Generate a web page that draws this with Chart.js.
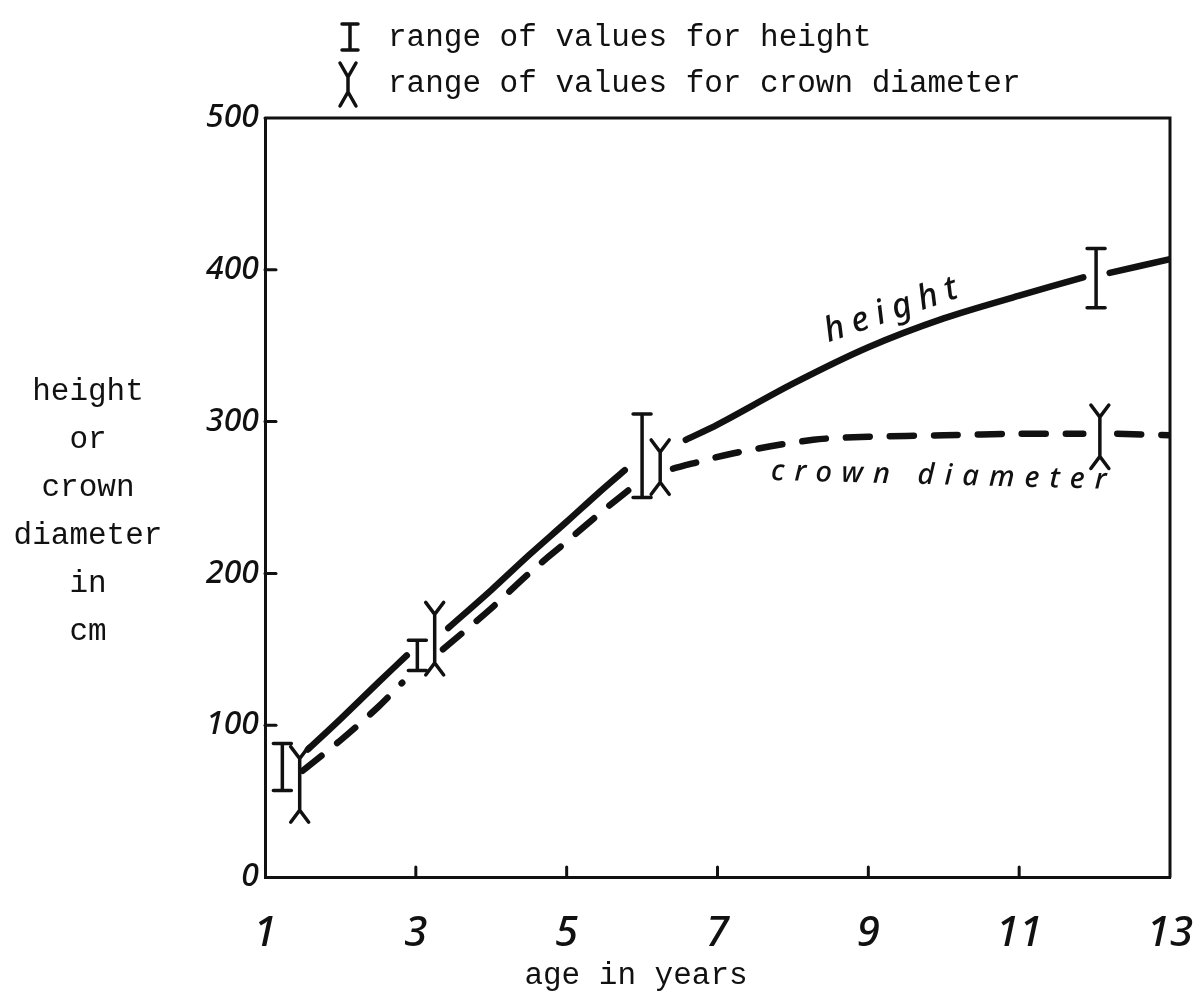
<!DOCTYPE html>
<html>
<head>
<meta charset="utf-8">
<script src="https://cdn.jsdelivr.net/npm/chart.js@4"></script>
<style>
  body { margin: 0; background: #fff; }
  #wrap { width: 1203px; height: 994px; position: relative; }
</style>
</head>
<body>
<div id="wrap"><canvas id="growthChart"></canvas></div>
<script>
// ages (years) and values (cm); null = a break in the pen line
var heightAge = [1.57, 2, 2.5, 2.88, 3.1, 3.43, 4, 4.5, 5, 5.4, 5.77, 6.2, 6.58, 7, 8, 9, 10, 11, 11.85, 12, 12.2, 13];
var heightCm  = [84, 104, 128, 146, null, 164, 189, 212, 234, 252, 268, null, 288, 298, 325, 349, 368, 383, 395, null, 398, 407];

var crownAge = [1.5, 2, 2.5, 2.82, 3.1, 3.36, 4, 4.5, 5, 5.5, 5.9, 6.3, 6.41, 7.2, 8.27, 9, 10, 11, 11.85, 12, 12.3, 13];
var crownCm  = [70, 90, 112, 128, null, 150, 177, 200, 221, 242, 258, null, 269, 279, 288, 290, 291, 292, 292, null, 292, 291];

// range bars
var heightRangeAge  = [1.23, 3.02, 6.0, 12.02];
var heightRangeLow  = [57, 136, 250, 375];
var heightRangeHigh = [88, 156, 305, 414];

var crownRangeAge  = [1.46, 3.25, 6.24, 12.07];
var crownRangeLow  = [44, 141, 260, 277];
var crownRangeHigh = [78, 173, 280, 303];

// tick labels
var xTickValues = [1, 3, 5, 7, 9, 11, 13];
var yTickValues = [0, 100, 200, 300, 400, 500];

var legendText = ['range of values for height', 'range of values for crown diameter'];
var yTitleLines = ['height', 'or', 'crown', 'diameter', 'in', 'cm'];
var xTitle = 'age in years';

function toPoints(xs, ys) {
  var pts = [];
  for (var i = 0; i < xs.length; i++) {
    pts.push({ x: xs[i], y: ys[i] });
  }
  return pts;
}

var ink = '#111';
var mono = '"Liberation Mono", "DejaVu Sans Mono", monospace';
var hand = '"Noto Sans", "DejaVu Sans", sans-serif';

function drawI(ctx, x, yTop, yBot, w) {
  ctx.beginPath();
  ctx.moveTo(x, yTop); ctx.lineTo(x, yBot);
  ctx.moveTo(x - w, yTop); ctx.lineTo(x + w, yTop);
  ctx.moveTo(x - w, yBot); ctx.lineTo(x + w, yBot);
  ctx.stroke();
}

function drawY(ctx, x, yTop, yBot, w, h) {
  ctx.beginPath();
  ctx.moveTo(x, yTop); ctx.lineTo(x, yBot);
  ctx.moveTo(x - w, yTop - h); ctx.lineTo(x, yTop); ctx.lineTo(x + w, yTop - h);
  ctx.moveTo(x - w, yBot + h); ctx.lineTo(x, yBot); ctx.lineTo(x + w, yBot + h);
  ctx.stroke();
}

// everything the hand drew around the curves
var sketchPlugin = {
  id: 'sketch',
  afterDraw: function (chart) {
    var ctx = chart.ctx;
    var xs = chart.scales.x, ys = chart.scales.y;
    var a = chart.chartArea;
    ctx.save();
    ctx.strokeStyle = ink;
    ctx.fillStyle = ink;
    ctx.lineCap = 'round';

    // top and right edge of the box
    ctx.lineWidth = 3;
    ctx.beginPath();
    ctx.moveTo(a.left, a.top); ctx.lineTo(a.right, a.top); ctx.lineTo(a.right, a.bottom);
    ctx.stroke();

    // inward tick marks
    for (var i = 1; i < yTickValues.length - 1; i++) {
      var py = ys.getPixelForValue(yTickValues[i]);
      ctx.beginPath(); ctx.moveTo(a.left, py); ctx.lineTo(a.left + 11, py); ctx.stroke();
    }
    for (var j = 1; j < xTickValues.length - 1; j++) {
      var px = xs.getPixelForValue(xTickValues[j]);
      ctx.beginPath(); ctx.moveTo(px, a.bottom); ctx.lineTo(px, a.bottom - 10); ctx.stroke();
    }

    // range bars
    ctx.lineWidth = 3.5;
    for (var k = 0; k < heightRangeAge.length; k++) {
      drawI(ctx, xs.getPixelForValue(heightRangeAge[k]),
        ys.getPixelForValue(heightRangeHigh[k]), ys.getPixelForValue(heightRangeLow[k]), 9);
    }
    for (var m = 0; m < crownRangeAge.length; m++) {
      drawY(ctx, xs.getPixelForValue(crownRangeAge[m]),
        ys.getPixelForValue(crownRangeHigh[m]), ys.getPixelForValue(crownRangeLow[m]), 9, 12);
    }

    // legend at the top
    drawI(ctx, 350, 24, 50, 8);
    drawY(ctx, 348, 77, 92, 8, 14);
    ctx.font = '31px ' + mono;
    ctx.textAlign = 'left';
    ctx.textBaseline = 'middle';
    ctx.fillText(legendText[0], 388, 38);
    ctx.fillText(legendText[1], 388, 84);

    // y title, one word per line
    ctx.textAlign = 'center';
    for (var n = 0; n < yTitleLines.length; n++) {
      ctx.fillText(yTitleLines[n], 88, 392 + n * 48);
    }
    // x title
    ctx.fillText(xTitle, 636, 976);

    // hand written curve names
    ctx.font = 'italic 500 34px ' + hand;
    ctx.letterSpacing = '8px';
    ctx.save();
    ctx.translate(xs.getPixelForValue(9.35), ys.getPixelForValue(374));
    ctx.rotate(-19 * Math.PI / 180);
    ctx.fillText('height', 0, 0);
    ctx.restore();

    ctx.font = 'italic 500 29px ' + hand;
    ctx.letterSpacing = '10px';
    ctx.save();
    ctx.translate(xs.getPixelForValue(10.0), ys.getPixelForValue(264));
    ctx.rotate(1.5 * Math.PI / 180);
    ctx.fillText('crown diameter', 0, 0);
    ctx.restore();

    ctx.restore();
  }
};

new Chart(document.getElementById('growthChart'), {
  type: 'line',
  data: {
    datasets: [{
      label: 'height',
      data: toPoints(heightAge, heightCm),
      borderColor: ink,
      borderWidth: 6.5,
      borderCapStyle: 'round',
      pointRadius: 0,
      tension: 0.3,
      spanGaps: false
    }, {
      label: 'crown diameter',
      data: toPoints(crownAge, crownCm),
      borderColor: ink,
      borderWidth: 6.5,
      borderDash: [24, 20],
      borderCapStyle: 'round',
      pointRadius: 0,
      tension: 0.3,
      spanGaps: false
    }]
  },
  options: {
    responsive: true,
    maintainAspectRatio: false,
    animation: false,
    layout: { padding: { top: 118, right: 33, left: 0, bottom: 0 } },
    plugins: {
      legend: { display: false },
      tooltip: { enabled: false }
    },
    scales: {
      x: {
        type: 'linear',
        min: 1,
        max: 13,
        afterFit: function (s) { s.height = 117; s.paddingLeft = 0; s.paddingRight = 0; },
        afterBuildTicks: function (s) { s.ticks = xTickValues.map(function (v) { return { value: v }; }); },
        grid: { display: false, drawTicks: false },
        border: { display: true, color: ink, width: 3 },
        ticks: {
          color: ink,
          padding: 32,
          maxRotation: 0,
          font: { family: hand, size: 42, style: 'italic', weight: '500' }
        }
      },
      y: {
        min: 0,
        max: 500,
        afterFit: function (s) { s.width = 265; s.paddingTop = 0; s.paddingBottom = 0; },
        afterBuildTicks: function (s) { s.ticks = yTickValues.map(function (v) { return { value: v }; }); },
        grid: { display: false, drawTicks: false },
        border: { display: true, color: ink, width: 3 },
        ticks: {
          color: ink,
          padding: 6,
          font: { family: hand, size: 32, style: 'italic', weight: '500' }
        }
      }
    }
  },
  plugins: [sketchPlugin]
});
</script>
</body>
</html>
